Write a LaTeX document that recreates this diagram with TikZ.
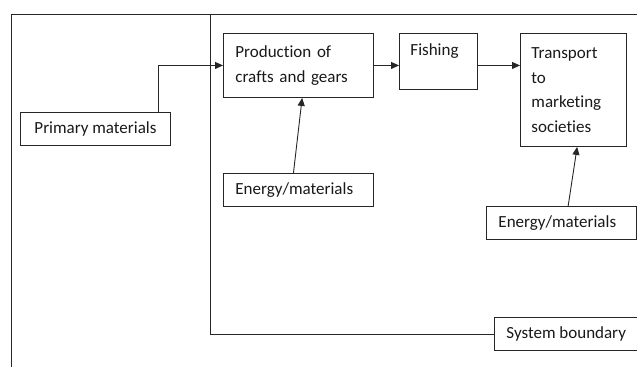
\documentclass[tikz,border=0pt]{standalone}
\usepackage{fontspec}
\setmainfont{Carlito}[Ligatures={NoCommon}]
\usetikzlibrary{arrows.meta}
\begin{document}
\begin{tikzpicture}[x=1pt,y=-1pt,line width=0.9pt,
  line/.style={draw=black!85},
  box/.style={draw=black!85,rectangle,anchor=north west,inner ysep=0pt,inner xsep=12pt,
    align=left,font=\fontsize{17}{24.5}\selectfont,text=black!90},
  arr/.style={line,-{Triangle[length=8pt,width=7pt]}}]
\useasboundingbox (0,0) rectangle (637,367);
% boxes
\node[box,minimum width=150pt,minimum height=33pt,align=center] (prim) at (20,112) {Primary materials};
\node[box,text width=126pt,minimum height=64pt] (prod) at (223,33) {Production of\\crafts and gears};
\node[box,text width=56pt,inner xsep=11pt,minimum height=56pt] (fish) at (399,33) {Fishing\\\mbox{}};
\node[box,text width=84pt,inner xsep=11pt,minimum height=113pt] (trans) at (520,33) {Transport\\to\\marketing\\societies};
\node[box,text width=126pt,minimum height=33pt] (en1) at (223,173) {Energy/materials};
\node[box,text width=126pt,minimum height=33pt] (en2) at (486,206) {Energy/materials};
\node[box,minimum width=142pt,minimum height=33pt,align=center] (sys) at (494,317) {System boundary};
% frame
\coordinate (fbl) at (11,367);
\coordinate (ftl) at (11,14);
\coordinate (ftr) at (637,14);
\coordinate (itop) at (210,14);
\draw[line] (fbl) -- (ftl) -- (ftr);
\draw[line] (itop) |- (sys.west);
% arrows
\draw[arr] ([xshift=-12pt]prim.north east) |- (prod.west);
\draw[arr] (prod.east) -- (prod.east -| fish.west);
\draw[arr] (prod.east -| fish.east) -- (prod.east -| trans.west);
\draw[arr] ([xshift=-5pt]en1.north) -- ([xshift=3.7pt]prod.south);
\draw[arr] ([xshift=6.7pt]en2.north) -- ([xshift=3.7pt]trans.south);
\end{tikzpicture}
\end{document}
